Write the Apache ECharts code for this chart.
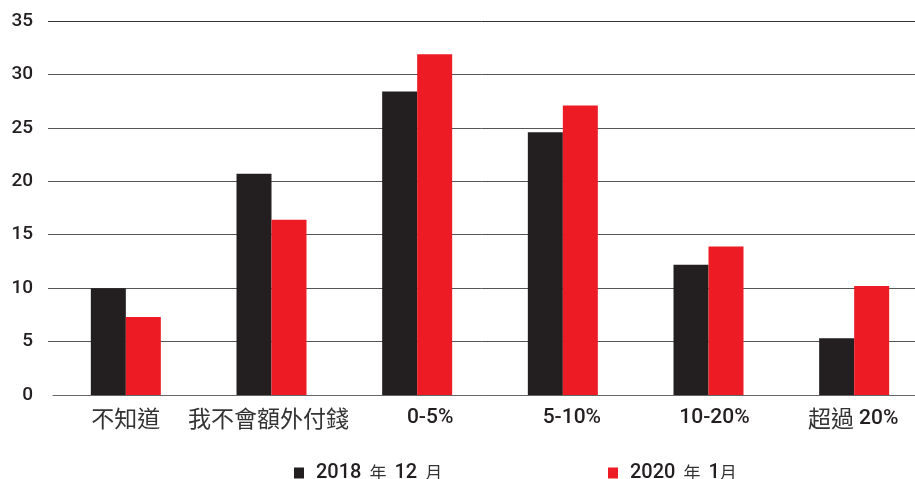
<!DOCTYPE html>
<html><head><meta charset="utf-8">
<script src="https://cdn.jsdelivr.net/npm/echarts@6/dist/echarts.min.js"></script>
<style>html,body{margin:0;padding:0;background:#fff}#c{width:915px;height:479px}</style>
</head><body><div id="c"></div>
<script>
const categories = ['不知道', '我不會額外付錢', '0-5%', '5-10%', '10-20%', '超過 20%'];
const seriesNames = ['2018 年 12 月', '2020 年 1月'];
const values2018 = [10, 20.7, 28.4, 24.6, 12.2, 5.3];
const values2020 = [7.3, 16.4, 31.9, 27.1, 13.9, 10.2];
const yTicks = [0, 5, 10, 15, 20, 25, 30, 35];
// horizontal nudges of the category labels (layout only)
const labelShift = [0, -3, 13, 9, 6, -1];

const FONT = 'Roboto, "Liberation Sans", sans-serif';
const CJK = '"Noto Sans CJK TC", "Noto Sans CJK SC", sans-serif';
const TXT = '#231f20';

function richify(s, cKey, dKey, spKey) {
  const parts = s.match(/ |[\u3000-\u9fff\uff00-\uffef]+|[^ \u3000-\u9fff\uff00-\uffef]+/g) || [];
  return parts.map(p => {
    if (p === ' ') return spKey ? `{${spKey}| }` : `{${dKey}| }`;
    return /[\u3000-\u9fff]/.test(p) ? `{${cKey}|${p}}` : `{${dKey}|${p}}`;
  }).join('');
}

const axisRich = {
  c: {fontFamily: CJK, fontSize: 23, fontWeight: 'normal', color: '#333'},
  d: {fontFamily: FONT, fontSize: 21, fontWeight: 500, color: TXT}
};
labelShift.forEach((v, i) => { axisRich['sp' + i] = {fontSize: 10, width: Math.abs(v) * 2}; });

const legendRich = {
  c: {fontFamily: CJK, fontSize: 17, fontWeight: 'normal', color: '#333'},
  d: {fontFamily: FONT, fontSize: 20, fontWeight: 500, color: TXT},
  s: {fontSize: 10, width: 8}
};

const chart = echarts.init(document.getElementById('c'), null, {renderer: 'canvas'});
chart.setOption({
  animation: false,
  backgroundColor: '#fff',
  grid: [
    {left: 48, right: 0, top: 21, bottom: 84, outerBoundsMode: 'none', containLabel: false},
    {left: 53, width: 874, top: 21, bottom: 84, outerBoundsMode: 'none', containLabel: false}
  ],
  xAxis: [
    {gridIndex: 0, type: 'value', show: false, min: 0, max: 1},
    {gridIndex: 1, type: 'category', data: categories,
     axisLine: {show: true, lineStyle: {color: '#666', width: 1}},
     axisTick: {show: false},
     axisLabel: {interval: 0, margin: 12, rich: axisRich, hideOverlap: false,
       formatter: (v, i) => {
         const sh = labelShift[i] || 0;
         const pad = `{sp${i}| }`;
         const body = richify(v, 'c', 'd');
         return sh > 0 ? pad + body : (sh < 0 ? body + pad : body);
       }}}
  ],
  yAxis: [
    {gridIndex: 0, type: 'value', min: yTicks[0], max: yTicks[yTicks.length - 1], interval: 5,
     axisLine: {show: false}, axisTick: {show: false},
     axisLabel: {margin: 15, fontSize: 19, fontFamily: FONT, fontWeight: 500, color: TXT},
     splitLine: {show: true, lineStyle: {color: ['rgba(0,0,0,0)', '#555', '#555', '#555', '#555', '#555', '#555', '#333'], width: 1}}},
    {gridIndex: 1, type: 'value', min: yTicks[0], max: yTicks[yTicks.length - 1], interval: 5, show: false,
     splitLine: {show: false}}
  ],
  legend: [
    {data: [seriesNames[0]], left: 294, top: 463, padding: 0, itemWidth: 10, itemHeight: 11, icon: 'rect',
     formatter: n => richify(n, 'c', 'd', 's'),
     textStyle: {rich: legendRich, padding: [0, 0, 0, 7]}},
    {data: [seriesNames[1]], left: 608, top: 463, padding: 0, itemWidth: 10, itemHeight: 11, icon: 'rect',
     formatter: n => richify(n, 'c', 'd', 's'),
     textStyle: {rich: legendRich, padding: [0, 0, 0, 7]}}
  ],
  series: [
    {name: seriesNames[0], type: 'bar', xAxisIndex: 1, yAxisIndex: 1, data: values2018,
     barWidth: 35, barGap: '0%', itemStyle: {color: '#231f20'}},
    {name: seriesNames[1], type: 'bar', xAxisIndex: 1, yAxisIndex: 1, data: values2020,
     barWidth: 35, barGap: '0%', itemStyle: {color: '#ed1c24'}}
  ]
});
</script></body></html>
